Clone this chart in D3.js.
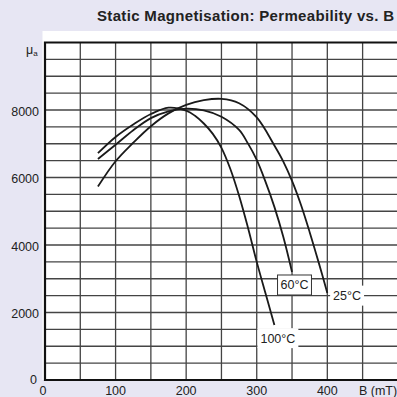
<!DOCTYPE html>
<html lang="en">
<head>
<meta charset="UTF-8">
<title>Static Magnetisation: Permeability vs. B</title>
<script src="https://d3js.org/d3.v7.min.js"></script>
<style>
  body { margin: 0; background: #e7e6f3; }
  svg text { font-family: "Liberation Sans", Arial, sans-serif; fill: #222; }
</style>
</head>
<body>
<svg id="chart" width="397" height="397"></svg>
<script>
// curves (B in mT, permeability)
const b25  = [75, 100, 125, 150, 175, 200, 225, 250, 275, 300, 325, 337.5, 350, 362.5, 375, 387.5, 400];
const mu25 = [5730, 6480, 7030, 7520, 7900, 8150, 8290, 8330, 8200, 7780, 6950, 6480, 5900, 5200, 4380, 3500, 2580];
const b60  = [75, 100, 125, 150, 175, 200, 225, 250, 275, 287.5, 300, 312.5, 325, 337.5, 350];
const mu60 = [6550, 6970, 7400, 7760, 7960, 8040, 7990, 7800, 7410, 7010, 6520, 5870, 5130, 4250, 3200];
const b100  = [75, 100, 125, 150, 175, 200, 212.5, 225, 237.5, 250, 262.5, 275, 287.5, 300, 312.5, 325];
const mu100 = [6720, 7200, 7570, 7880, 8070, 7980, 7830, 7600, 7300, 6880, 6260, 5460, 4520, 3500, 2560, 1630];

const xTicks = [0, 100, 200, 300, 400];
const yTicks = [2000, 4000, 6000, 8000];

const labelText = ["60°C", "25°C", "100°C"];
const labelB    = [353.5, 428, 330];
const labelMu   = [2815, 2500, 1240];

const svg = d3.select("#chart");

const x = d3.scaleLinear().domain([0, 500]).range([45, 397.9]);
const y = d3.scaleLinear().domain([0, 10000]).range([380, 42.5]);

// white panel
svg.append("rect")
    .attr("x", 42.5).attr("y", 31)
    .attr("width", 397 - 42.5).attr("height", 380 - 31)
    .attr("fill", "#fff");

// title
svg.append("text")
    .attr("x", 97).attr("y", 20.5)
    .attr("font-size", "15px")
    .attr("font-weight", "bold")
    .attr("letter-spacing", "0.33px")
    .text("Static Magnetisation: Permeability vs. B");

// grid
const g = svg.append("g");
g.selectAll(".vgrid")
    .data(d3.range(50, 501, 50))
    .join("line")
    .attr("class", "vgrid")
    .attr("x1", d => x(d)).attr("x2", d => x(d))
    .attr("y1", y(10000)).attr("y2", y(0))
    .attr("stroke", "#444").attr("stroke-width", 1.3);
g.selectAll(".hgrid")
    .data(d3.range(500, 10000, 500))
    .join("line")
    .attr("class", "hgrid")
    .attr("x1", x(0)).attr("x2", x(500))
    .attr("y1", d => y(d)).attr("y2", d => y(d))
    .attr("stroke", "#444").attr("stroke-width", 1.3);

// frame (left, bottom, top)
svg.append("path")
    .attr("d", `M${x(500)},${y(10000)}H${x(0)}V${y(0)}H${x(500)}`)
    .attr("fill", "none")
    .attr("stroke", "#111")
    .attr("stroke-width", 2.2);

// curves
const line = d3.line()
    .x(d => x(d[0]))
    .y(d => y(d[1]))
    .curve(d3.curveCatmullRom.alpha(0.5));

const series = [
    d3.zip(b25, mu25),
    d3.zip(b60, mu60),
    d3.zip(b100, mu100)
];
svg.selectAll(".curve")
    .data(series)
    .join("path")
    .attr("class", "curve")
    .attr("d", line)
    .attr("fill", "none")
    .attr("stroke", "#1a1a1a")
    .attr("stroke-width", 1.8);

// curve labels
labelText.forEach((t, i) => {
    const cx = x(labelB[i]), cy = y(labelMu[i]);
    const lbl = svg.append("g");
    const txt = lbl.append("text")
        .attr("x", cx).attr("y", cy + 4.5)
        .attr("text-anchor", "middle")
        .attr("font-size", "12.5px")
        .text(t);
    const bb = txt.node().getBBox();
    lbl.insert("rect", "text")
        .attr("x", bb.x - 3).attr("y", cy - 10)
        .attr("width", bb.width + 6).attr("height", 20)
        .attr("fill", "#fff")
        .attr("stroke", i === 0 ? "#333" : "none")
        .attr("stroke-width", 1);
});

// tick labels
svg.selectAll(".xlab")
    .data(xTicks)
    .join("text")
    .attr("class", "xlab")
    .attr("x", d => d === 0 ? x(d) - 2 : x(d))
    .attr("y", 394.5)
    .attr("text-anchor", "middle")
    .attr("font-size", "12.5px")
    .text(d => d);

svg.append("text")
    .attr("x", 378).attr("y", 394.5)
    .attr("text-anchor", "middle")
    .attr("font-size", "12.5px")
    .text("B (mT)");

svg.selectAll(".ylab")
    .data(yTicks)
    .join("text")
    .attr("class", "ylab")
    .attr("x", 39)
    .attr("y", d => y(d) + 5.5)
    .attr("text-anchor", "end")
    .attr("font-size", "12.5px")
    .text(d => d);

svg.append("text")
    .attr("x", 37).attr("y", 384)
    .attr("text-anchor", "end")
    .attr("font-size", "12.5px")
    .text("0");

// axis name
const mu = svg.append("text")
    .attr("x", 26).attr("y", 54)
    .attr("font-size", "12.5px");
mu.append("tspan").text("μ");
mu.append("tspan").attr("font-size", "8px").attr("dy", 2).text("a");
</script>
</body>
</html>
